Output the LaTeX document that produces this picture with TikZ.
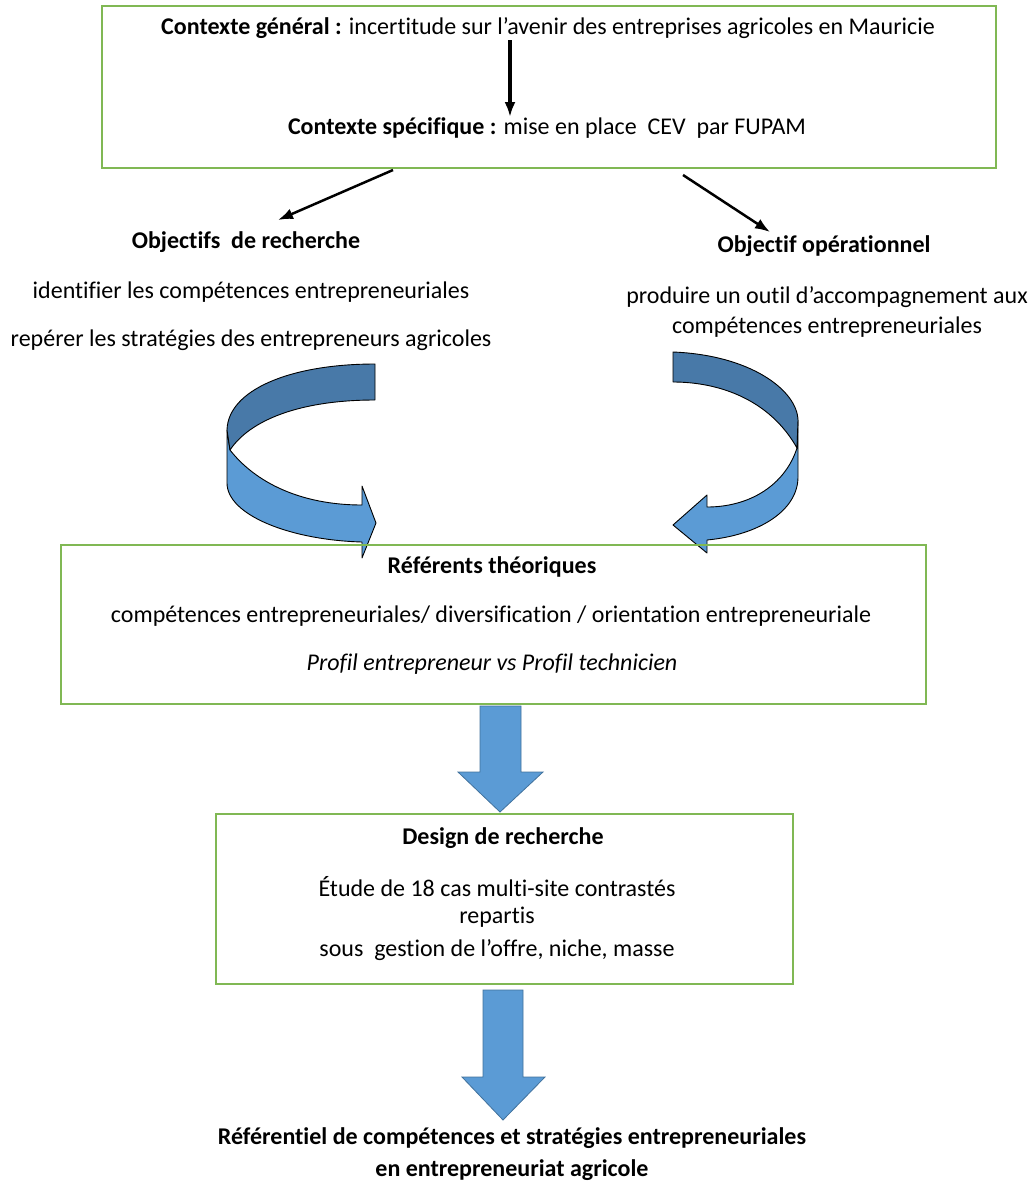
\documentclass[tikz,border=0pt]{standalone}
\usepackage{fontspec}
\setmainfont[Ligatures=NoCommon]{Carlito}
\usetikzlibrary{arrows.meta}
\definecolor{boxgreen}{RGB}{128,184,84}
\definecolor{darkband}{RGB}{72,121,168}
\definecolor{lightband}{RGB}{91,155,213}
\definecolor{blockedge}{RGB}{65,113,156}
\tikzset{
  frame/.style={draw=boxgreen, line width=1.5pt},
  txt/.style={font=\fontsize{24}{28}\selectfont, inner sep=0pt, anchor=center},
  blk/.style={arrows={-Latex[length=15pt,width=11pt]}, line width=3.4pt},
  curvd/.style={draw=black, line width=0.9pt, line join=round},
  blockarrow/.style={fill=lightband, draw=blockedge, line width=0.8pt}
}
\begin{document}
\begin{tikzpicture}[x=1pt,y=-1pt]
\useasboundingbox (0,0) rectangle (1033,1184);
% top box
\node[frame, minimum width=894pt, minimum height=162pt, anchor=north west] (top) at (101,5) {};
\node[txt] (cg) at (548,28) {\textbf{Contexte général :} incertitude sur l’avenir des entreprises agricoles en Mauricie};
\node[txt] (cs) at (547,128) {\textbf{Contexte spécifique :} mise en place\ \ CEV\ \ par FUPAM};
\coordinate (a1s) at (510,40);
\coordinate (a1e) at (510,117);
\draw[blk] (a1s) -- (a1e);
% objectives
\node[txt] (or) at (246,242) {\textbf{Objectifs\ \ de recherche}};
\node[txt] (or1) at (251,292) {identifier les compétences entrepreneuriales};
\node[txt] (or2) at (251,340) {repérer les stratégies des entrepreneurs agricoles};
\node[txt] (oo) at (824,246) {\textbf{Objectif opérationnel}};
\node[txt] (oo1) at (827,297) {produire un outil d’accompagnement aux};
\node[txt] (oo2) at (827,327) {compétences entrepreneuriales};
\coordinate (l1) at (393,170);
\coordinate (l2) at (278,220);
\coordinate (r1) at (683,175);
\coordinate (r2) at (770,232);
\draw[blk, line width=2.5pt] (l1) -- (l2);
\draw[blk, line width=2.5pt] (r1) -- (r2);
% left curved arrow
\draw[curvd, fill=lightband] (230,450) .. controls (255,482) and (300,505) .. (362,505) -- (362,486) -- (376,523) -- (362,558) -- (362,542) .. controls (290,540) and (227,515) .. (227,483) -- (227,430) -- cycle;
\draw[curvd, fill=darkband] (375,364) .. controls (290,364) and (228,390) .. (227,430) -- (230,450) .. controls (250,420) and (300,400) .. (375,400) -- cycle;
% right curved arrow
\draw[curvd, fill=lightband] (797,448) .. controls (785,485) and (750,507) .. (707,507) -- (707,495) -- (673,525) -- (707,553) -- (707,540) .. controls (760,535) and (798,510) .. (798,477) -- (798,420) -- cycle;
\draw[curvd, fill=darkband] (673,352) .. controls (750,355) and (797,390) .. (798,420) -- (797,448) .. controls (770,400) and (720,382) .. (673,382) -- cycle;
% box 2
\node[frame, minimum width=865pt, minimum height=159pt, anchor=north west] (ref) at (60,544) {};
\node[txt] (rt) at (492,567) {\textbf{Référents théoriques}};
\node[txt] (rt1) at (491,616) {compétences entrepreneuriales/ diversification / orientation entrepreneuriale};
\node[txt] (rt2) at (492,664) {\textit{Profil entrepreneur vs Profil technicien}};
% block arrow 1
\draw[blockarrow] (480,706) -- (521,706) -- (521,772) -- (543,772) -- (500,812) -- (458,772) -- (480,772) -- cycle;
% box 3
\node[frame, minimum width=577pt, minimum height=170pt, anchor=north west] (des) at (215,813) {};
\node[txt] (dr) at (503,838) {\textbf{Design de recherche}};
\node[txt] (dr1) at (497,887) {Étude de 18 cas multi-site contrastés};
\node[txt] (dr2) at (497,917) {repartis};
\node[txt] (dr3) at (497,950) {sous\ \ gestion de l’offre, niche, masse};
% block arrow 2
\draw[blockarrow] (483,990) -- (523,990) -- (523,1077) -- (545,1077) -- (503,1120) -- (462,1077) -- (483,1077) -- cycle;
% final
\node[txt] (f1) at (512,1138) {\textbf{Référentiel de compétences et stratégies entrepreneuriales}};
\node[txt] (f2) at (512,1170) {\textbf{en entrepreneuriat agricole}};
\end{tikzpicture}
\end{document}
